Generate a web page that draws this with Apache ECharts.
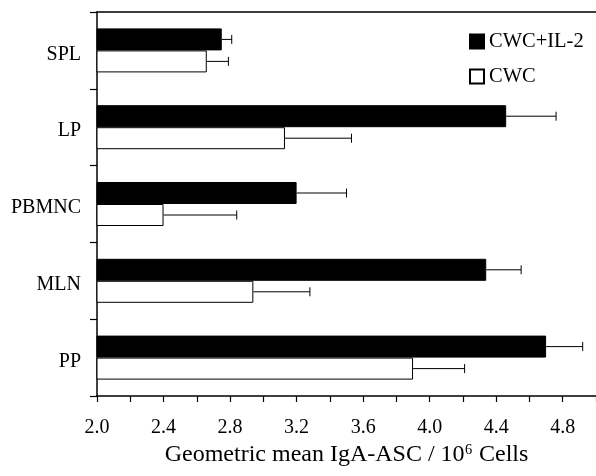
<!DOCTYPE html>
<html>
<head>
<meta charset="utf-8">
<script src="https://cdn.jsdelivr.net/npm/echarts@6/dist/echarts.min.js"></script>
<style>
html,body{margin:0;padding:0;background:#fff;}
#chart{width:596px;height:476px;}
</style>
</head>
<body>
<div id="chart"></div>
<script>
var categories = ['SPL', 'LP', 'PBMNC', 'MLN', 'PP'];
var seriesNames = ['CWC+IL-2', 'CWC'];
var cwcIl2 = [2.75, 4.46, 3.20, 4.34, 4.70];
var cwcIl2Err = [0.06, 0.30, 0.30, 0.21, 0.22];
var cwc = [2.66, 3.13, 2.40, 2.94, 3.90];
var cwcErr = [0.13, 0.40, 0.44, 0.34, 0.31];
var xTicks = [2.0, 2.4, 2.8, 3.2, 3.6, 4.0, 4.4, 4.8];

var FONT = 'Liberation Serif';
var BAR_W = 22;

function errData(vals, errs) {
  return vals.map(function (v, i) { return [v, v + errs[i], i]; });
}

function errRender(sign) {
  return function (params, api) {
    var v = api.value(0), e = api.value(1), c = api.value(2);
    var p0 = api.coord([v, c]);
    var p1 = api.coord([e, c]);
    var y = p0[1] + sign * BAR_W / 2;
    var h = 4.5;
    return {
      type: 'group',
      children: [
        { type: 'line', shape: { x1: p0[0], y1: y, x2: p1[0], y2: y }, style: { stroke: '#000', lineWidth: 1 } },
        { type: 'line', shape: { x1: p1[0], y1: y - h, x2: p1[0], y2: y + h }, style: { stroke: '#000', lineWidth: 1 } }
      ]
    };
  };
}

var chart = echarts.init(document.getElementById('chart'), null, { renderer: 'canvas' });
chart.setOption({
  animation: false,
  backgroundColor: '#fff',
  textStyle: { fontFamily: FONT, color: '#000' },
  grid: { left: 97, right: -7, top: 12, bottom: 80, containLabel: false },
  legend: {
    orient: 'vertical',
    left: 469,
    top: 31,
    padding: 0,
    icon: 'rect',
    itemWidth: 14,
    itemHeight: 14,
    itemGap: 14,
    data: seriesNames,
    textStyle: { fontFamily: FONT, fontSize: 20.5, color: '#000' }
  },
  xAxis: [{
    type: 'value',
    position: 'bottom',
    min: 2,
    max: 5,
    interval: 0.4,
    name: 'Geometric mean IgA-ASC / 10\u2076 Cells',
    nameLocation: 'middle',
    nameGap: 38,
    nameTextStyle: { fontFamily: FONT, fontSize: 24, color: '#000' },
    splitLine: { show: false },
    axisLine: { show: true, lineStyle: { color: '#000', width: 1.5 } },
    axisTick: { show: true, length: 6, lineStyle: { color: '#000', width: 1.2 } },
    minorTick: { show: true, splitNumber: 2, length: 6, lineStyle: { color: '#000', width: 1.2 } },
    axisLabel: {
      margin: 22,
      fontFamily: FONT,
      fontSize: 20,
      color: '#000',
      showMaxLabel: false,
      formatter: function (v) {
        for (var i = 0; i < xTicks.length; i++) {
          if (Math.abs(xTicks[i] - v) < 1e-6) return xTicks[i].toFixed(1);
        }
        return '';
      }
    }
  }, {
    type: 'value',
    position: 'top',
    min: 2,
    max: 5,
    interval: 0.4,
    splitLine: { show: false },
    axisLine: { show: true, lineStyle: { color: '#000', width: 1.5 } },
    axisTick: { show: false },
    axisLabel: { show: false }
  }],
  yAxis: {
    type: 'category',
    inverse: true,
    data: categories,
    boundaryGap: true,
    axisLine: { show: true, lineStyle: { color: '#000', width: 1.5 } },
    axisTick: { show: true, length: 7, alignWithLabel: false, lineStyle: { color: '#000', width: 1.2 } },
    axisLabel: {
      margin: 16,
      fontFamily: FONT,
      fontSize: 20,
      color: '#000',
      formatter: function (v) { return '{c|' + v + '}'; },
      rich: { c: { fontFamily: FONT, fontSize: 20, color: '#000', padding: [8, 0, 0, 0] } }
    },
    splitLine: { show: false }
  },
  series: [{
    name: seriesNames[0],
    type: 'bar',
    data: cwcIl2,
    barWidth: BAR_W,
    barGap: '0%',
    itemStyle: { color: '#000', borderColor: '#000', borderWidth: 1 }
  }, {
    name: seriesNames[1],
    type: 'bar',
    data: cwc,
    barWidth: BAR_W,
    barGap: '0%',
    itemStyle: { color: '#fff', borderColor: '#000', borderWidth: 1 }
  }, {
    type: 'custom',
    data: errData(cwcIl2, cwcIl2Err),
    encode: { x: [0, 1], y: 2 },
    renderItem: errRender(-1),
    z: 5
  }, {
    type: 'custom',
    data: errData(cwc, cwcErr),
    encode: { x: [0, 1], y: 2 },
    renderItem: errRender(1),
    z: 5
  }]
});
</script>
</body>
</html>
